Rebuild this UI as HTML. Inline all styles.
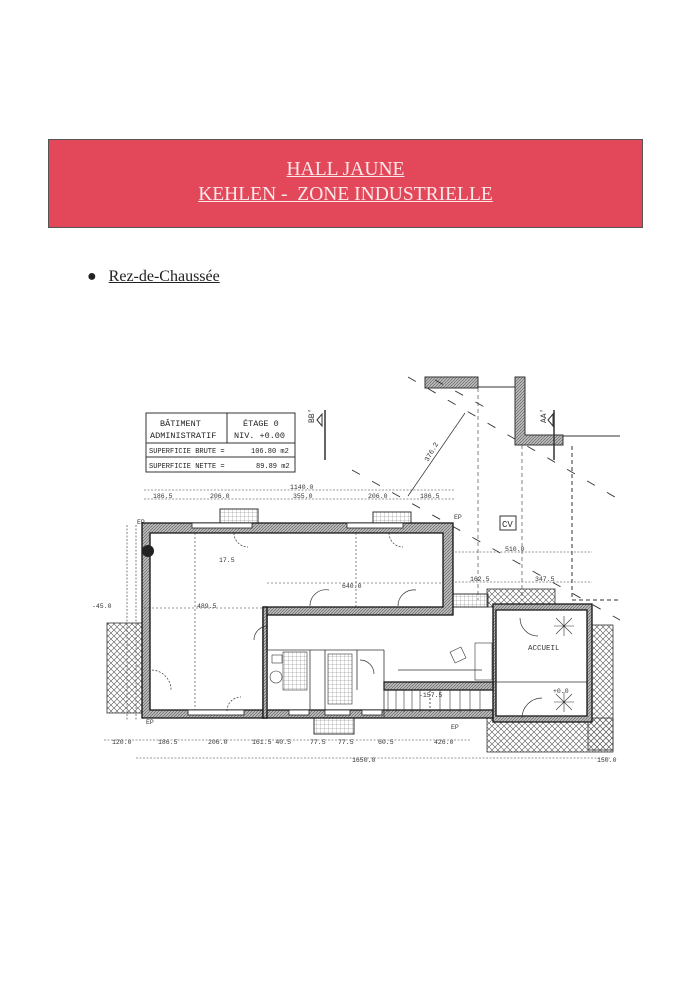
<!DOCTYPE html>
<html><head><meta charset="utf-8"><style>
body{margin:0;background:#fff;width:700px;height:989px;overflow:hidden;position:relative;font-family:"Liberation Serif",serif}
.hdr{position:absolute;left:48px;top:139px;width:595px;height:89px;background:#e2485a;border:1px solid #555;text-align:center;color:#fbe9ea;font-size:19.5px;line-height:25px;padding-top:17px;box-sizing:border-box}
.hdr span{text-decoration:underline;text-decoration-thickness:1px}
.bul{position:absolute;left:87px;top:268px;font-size:16px;color:#222}
.bul span{text-decoration:underline}
svg{position:absolute;left:0;top:0}
</style></head><body>
<div class="hdr"><span>HALL JAUNE</span><br><span>KEHLEN -&nbsp; ZONE INDUSTRIELLE</span></div>
<div class="bul">●&nbsp;&nbsp;&nbsp;<span>Rez-de-Chaussée</span></div>
<svg width="700" height="989" viewBox="0 0 700 989" font-family="Liberation Mono,monospace" fill="none" stroke="#333">
<defs>
<pattern id="x" width="6" height="6" patternUnits="userSpaceOnUse"><path d="M0 0L6 6M6 0L0 6" stroke="#555" stroke-width="0.6"/></pattern>
<pattern id="w" width="3" height="3" patternUnits="userSpaceOnUse"><rect width="3" height="3" fill="#bbb" stroke="none"/><path d="M0 3L3 0" stroke="#555" stroke-width="0.6"/></pattern>
<pattern id="g" width="4" height="4" patternUnits="userSpaceOnUse"><path d="M0 0H4M0 0V4" stroke="#777" stroke-width="0.5"/></pattern>
</defs>
<rect x="425" y="377" width="53" height="11" fill="url(#w)"/>
<line x1="478" y1="387" x2="515" y2="387"/>
<path d="M515 377H525V435H563V445H515Z" fill="url(#w)"/>
<line x1="563" y1="436" x2="620" y2="436"/>
<line x1="572" y1="446" x2="572" y2="600" stroke-dasharray="4 3"/>
<line x1="572" y1="600" x2="620" y2="600" stroke-dasharray="4 3"/>
<line x1="478" y1="388" x2="478" y2="600" stroke-dasharray="4 3" stroke-width="0.6"/>
<line x1="522" y1="445" x2="522" y2="600" stroke-dasharray="4 3" stroke-width="0.6"/>
<g stroke-width="0.9" stroke-dasharray="9 14">
<line x1="408" y1="377" x2="620" y2="500"/>
<line x1="352" y1="470" x2="620" y2="620"/>
<line x1="435" y1="380" x2="490" y2="410"/>
</g>
<line x1="408" y1="496" x2="465" y2="413" stroke-width="0.7"/>
<text x="428" y="462" font-size="7" fill="#333" stroke="none" transform="rotate(-60 428 462)">376.2</text>
<line x1="325" y1="410" x2="325" y2="460" stroke-width="1.5"/>
<path d="M317 420L322 414L322 426Z" fill="#fff"/>
<text x="306" y="425" font-size="8" fill="#333" stroke="none" transform="rotate(-90 309 420)">BB'</text>
<line x1="554" y1="410" x2="554" y2="460" stroke-width="1.5"/>
<path d="M548 420L553 414L553 426Z" fill="#fff"/>
<text x="538" y="425" font-size="8" fill="#333" stroke="none" transform="rotate(-90 541 420)">AA'</text>
<rect x="500" y="516" width="16" height="14"/>
<text x="502" y="527" font-size="9" fill="#333" stroke="none">CV</text>
<rect x="146" y="413" width="149" height="59" stroke-width="1"/>
<line x1="227" y1="413" x2="227" y2="443"/>
<line x1="146" y1="443" x2="295" y2="443"/>
<line x1="146" y1="457" x2="295" y2="457"/>
<g fill="#222" stroke="none" font-size="8.5">
<text x="160" y="426">BÂTIMENT</text><text x="150" y="438">ADMINISTRATIF</text>
<text x="243" y="426">ÉTAGE 0</text><text x="234" y="438">NIV. +0.00</text>
<text x="149" y="453" font-size="7">SUPERFICIE BRUTE =</text><text x="251" y="453" font-size="7">106.80 m2</text>
<text x="149" y="468" font-size="7">SUPERFICIE NETTE =</text><text x="256" y="468" font-size="7">89.89 m2</text>
</g>
<g stroke-width="0.6" stroke-dasharray="2 1.5">
<line x1="144" y1="490" x2="454" y2="490"/>
<line x1="144" y1="499" x2="454" y2="499"/>
<line x1="455" y1="552" x2="592" y2="552"/>
<line x1="455" y1="582" x2="592" y2="582"/>
<line x1="104" y1="740" x2="470" y2="740"/>
<line x1="136" y1="758" x2="610" y2="758"/>
<line x1="127" y1="525" x2="127" y2="720"/>
<line x1="136" y1="525" x2="136" y2="720"/>
</g>
<g fill="#333" stroke="none" font-size="6.5">
<text x="290" y="489">1140.0</text>
<text x="153" y="498">186.5</text><text x="210" y="498">206.0</text><text x="293" y="498">355.0</text><text x="368" y="498">206.0</text><text x="420" y="498">186.5</text>
<text x="505" y="551">510.0</text><text x="470" y="581">162.5</text><text x="535" y="581">347.5</text>
<text x="112" y="744">120.0</text><text x="158" y="744">186.5</text><text x="208" y="744">206.0</text><text x="252" y="744">161.5 40.5</text><text x="310" y="744">77.5</text><text x="338" y="744">77.5</text><text x="378" y="744">60.5</text><text x="434" y="744">426.0</text>
<text x="352" y="762">1650.0</text><text x="597" y="762">150.0</text>
<text x="219" y="562">17.5</text><text x="342" y="588">640.0</text><text x="197" y="608">489.5</text>
<text x="137" y="524">EP</text><text x="454" y="519">EP</text><text x="146" y="724">EP</text><text x="451" y="729">EP</text>
<text x="92" y="608">-45.0</text>
<text x="528" y="650" font-size="7.5">ACCUEIL</text>
<text x="419" y="697">-157.5</text><text x="553" y="693">+0.0</text>
</g>
<rect x="107" y="623" width="35" height="90" fill="url(#x)" stroke-width="0.8"/>
<rect x="588" y="625" width="25" height="125" fill="url(#x)" stroke-width="0.8"/>
<rect x="487" y="718" width="126" height="34" fill="url(#x)" stroke-width="0.8"/>
<rect x="487" y="589" width="68" height="18" fill="url(#x)" stroke-width="0.8"/>
<g fill="url(#g)" stroke-width="1">
<rect x="220" y="509" width="38" height="14"/><rect x="373" y="512" width="38" height="11"/>
<rect x="452" y="594" width="36" height="13"/><rect x="314" y="718" width="40" height="16"/>
</g>
<g fill="url(#w)" stroke="#111" stroke-width="1.3">
<path d="M142 523H453V615H267V718H142Z M150 533V710H263V607H443V533Z" fill-rule="evenodd"/>
<path d="M263 710H493V718H263Z"/>
<path d="M263 607H267V718H263Z"/>
<path d="M493 604H592V722H493Z M496 610V716H587V610Z" fill-rule="evenodd"/>
<path d="M384 682H493V690H384Z"/>
</g>
<circle cx="148" cy="551" r="6" fill="#222" stroke="none"/>
<g fill="#fff" stroke="#222" stroke-width="0.8">
<rect x="192" y="523" width="60" height="5"/><rect x="347" y="523" width="56" height="5"/>
<rect x="188" y="710" width="56" height="5"/><rect x="289" y="710" width="20" height="5"/><rect x="325" y="710" width="25" height="5"/><rect x="362" y="710" width="20" height="5"/>
</g>
<g stroke-width="0.8">
<line x1="267" y1="650" x2="384" y2="650"/>
<line x1="267" y1="650" x2="267" y2="710"/>
<line x1="310" y1="650" x2="310" y2="710"/>
<line x1="325" y1="650" x2="325" y2="710"/>
<line x1="357" y1="650" x2="357" y2="690"/>
<line x1="384" y1="650" x2="384" y2="718"/>
<line x1="493" y1="682" x2="588" y2="682"/>
<line x1="398" y1="670" x2="482" y2="670"/>
<line x1="430" y1="690" x2="430" y2="712" stroke-dasharray="2 2"/>
</g>
<rect x="283" y="652" width="24" height="38" fill="url(#g)" stroke-width="0.6"/>
<rect x="328" y="654" width="24" height="50" fill="url(#g)" stroke-width="0.6"/>
<g stroke-width="0.6">
<line x1="388" y1="690" x2="388" y2="712"/><line x1="396" y1="690" x2="396" y2="712"/><line x1="404" y1="690" x2="404" y2="712"/><line x1="412" y1="690" x2="412" y2="712"/><line x1="420" y1="690" x2="420" y2="712"/><line x1="440" y1="690" x2="440" y2="712"/><line x1="450" y1="690" x2="450" y2="712"/><line x1="460" y1="690" x2="460" y2="712"/><line x1="470" y1="690" x2="470" y2="712"/><line x1="480" y1="690" x2="480" y2="712"/>
<circle cx="276" cy="677" r="6"/><rect x="272" y="655" width="10" height="8"/>
<rect x="475" y="643" width="17" height="37"/>
<rect x="452" y="649" width="12" height="12" transform="rotate(-25 458 655)"/>
<line x1="144" y1="608" x2="263" y2="608" stroke-dasharray="2 2"/>
<line x1="195" y1="533" x2="195" y2="710" stroke-dasharray="2 2"/>
<line x1="356" y1="533" x2="356" y2="607" stroke-dasharray="2 2"/>
<line x1="267" y1="583" x2="443" y2="583" stroke-dasharray="2 2"/>
</g>
<g stroke-width="0.7" stroke-dasharray="2 1.5">
<path d="M234 533A14 14 0 0 0 248 547"/><path d="M389 533A14 14 0 0 0 403 547"/>
<path d="M152 670A20 20 0 0 1 171 690"/><path d="M227 711A14 14 0 0 1 241 697"/>
<path d="M254 640A14 14 0 0 1 268 626" stroke-dasharray="none"/>
<path d="M310 606A16 16 0 0 1 329 590" stroke-dasharray="none"/><path d="M398 606A16 16 0 0 1 416 590" stroke-dasharray="none"/>
<path d="M520 618A18 18 0 0 0 538 636" stroke-dasharray="none"/><path d="M522 718A20 20 0 0 1 542 698" stroke-dasharray="none"/>
<path d="M360 660A14 14 0 0 1 374 674" stroke-dasharray="none"/>
</g>
<g stroke-width="0.6"><path d="M556 618l16 16M572 618l-16 16M564 616v20M554 626h20"/><path d="M556 694l16 16M572 694l-16 16M564 692v20M554 702h20"/></g>
</svg>
</body></html>
